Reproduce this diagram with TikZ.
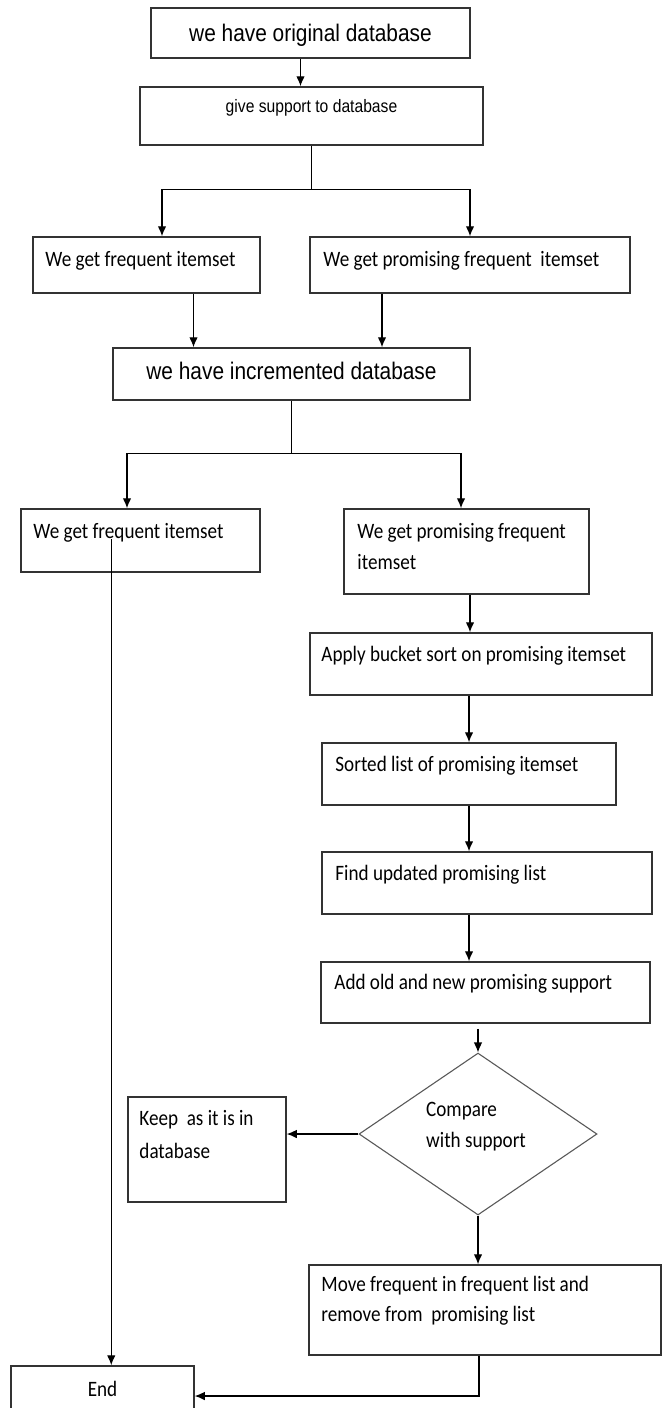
\documentclass[tikz,border=0pt]{standalone}
\usepackage{fontspec}
\newfontfamily\calfont[FakeStretch=0.87]{Carlito}
\newfontfamily\arfont[FakeStretch=0.87]{Liberation Sans}
\usetikzlibrary{arrows.meta,shapes.geometric,calc}

\begin{document}
\begin{tikzpicture}[x=1pt,y=-1pt,
  box/.style={draw=black!80, line width=1.5pt, inner sep=0pt},
  decision/.style={diamond, aspect=1.47, draw=black!65, line width=1.1pt, inner sep=0pt},
  txt/.style={font=\calfont\fontsize{22}{26}\selectfont, inner sep=0pt, anchor=base west},
  big/.style={font=\arfont\fontsize{24}{28}\selectfont, inner sep=0pt, anchor=base},
  arr/.style={-{Latex[length=10pt,width=8.5pt]}, line width=1.1pt}]
  \useasboundingbox (0,0) rectangle (663,1408);
  \clip (0,0) rectangle (663,1408);
  % boxes
  \node[box, minimum width=319pt, minimum height=50pt] (orig) at (310.5,33) {};
  \node[box, minimum width=343pt, minimum height=58pt] (supp) at (311.5,116) {};
  \node[box, minimum width=227pt, minimum height=56pt] (fr1) at (146.5,265) {};
  \node[box, minimum width=320pt, minimum height=56pt] (pr1) at (470,265) {};
  \node[box, minimum width=357pt, minimum height=52pt] (inc) at (291.5,374) {};
  \node[box, minimum width=239pt, minimum height=63pt] (fr2) at (140.5,540.5) {};
  \node[box, minimum width=245pt, minimum height=85pt] (pr2) at (466.5,551.5) {};
  \node[box, minimum width=342pt, minimum height=62pt] (bkt) at (481,664) {};
  \node[box, minimum width=294pt, minimum height=62pt] (srt) at (469,774) {};
  \node[box, minimum width=330pt, minimum height=62pt] (upd) at (487,883) {};
  \node[box, minimum width=329pt, minimum height=61pt] (add) at (485.5,992.5) {};
  \node[decision, minimum width=238pt, minimum height=162pt] (dia) at (478,1134) {};
  \node[box, minimum width=158pt, minimum height=105pt] (keep) at (207,1149.5) {};
  \node[box, minimum width=352pt, minimum height=90pt] (move) at (485,1310) {};
  \node[box, minimum width=183pt, minimum height=60pt] (endbox) at (102.5,1396) {};
  % texts
  \node[big] (origt) at ($(orig.south)+(0,-17)$) {we have original database};
  \node[big, font=\arfont\fontsize{18}{22}\selectfont] (suppt) at ($(supp.north)+(0,26)$) {give support to database};
  \node[txt] (fr1t) at ($(fr1.north west)+(13,30)$) {We get frequent itemset};
  \node[txt] (pr1t) at ($(pr1.north west)+(14,30)$) {We get promising frequent\ \ itemset};
  \node[big] (inct) at ($(inc.north)+(0,32)$) {we have incremented database};
  \node[txt] (fr2t) at ($(fr2.north west)+(13,30)$) {We get frequent itemset};
  \node[txt] (pr2t) at ($(pr2.north west)+(14,30)$) {We get promising frequent};
  \node[txt] (pr2u) at ($(pr2.north west)+(14,61)$) {itemset};
  \node[txt] (bktt) at ($(bkt.north west)+(12,29)$) {Apply bucket sort on promising itemset};
  \node[txt] (srtt) at ($(srt.north west)+(14,29)$) {Sorted list of promising itemset};
  \node[txt] (updt) at ($(upd.north west)+(14,29)$) {Find updated promising list};
  \node[txt] (addt) at ($(add.north west)+(14,28)$) {Add old and new promising support};
  \node[txt] (diat) at ($(dia.center)+(-52,-18)$) {Compare};
  \node[txt] (diau) at ($(dia.center)+(-52,13)$) {with support};
  \node[txt] (keept) at ($(keep.north west)+(12,29)$) {Keep\ \ as it is in};
  \node[txt] (keepu) at ($(keep.north west)+(12,62)$) {database};
  \node[txt] (movet) at ($(move.north west)+(13,27)$) {Move frequent in frequent list and};
  \node[txt] (moveu) at ($(move.north west)+(13,57)$) {remove from\ \ promising list};
  \node[txt, anchor=base] (endt) at ($(endbox.north)+(0,31)$) {End};
  % connectors
  \draw[arr] ([xshift=-10pt]orig.south) -- ([xshift=-11pt]supp.north);
  \draw (supp.south) -- ++(0,44) coordinate (s1);
  \draw[arr] (s1) -| ([xshift=15.5pt]fr1.north);
  \draw[arr] (s1) -| (pr1.north);
  \draw[arr] ([xshift=47pt]fr1.south) coordinate (a1) -- (a1 |- inc.north);
  \draw[arr] ([xshift=-88pt]pr1.south) coordinate (a2) -- (a2 |- inc.north);
  \draw (inc.south) -- ++(0,53) coordinate (s2);
  \draw[arr] (s2) -| ([xshift=-13.5pt]fr2.north);
  \draw[arr] (s2) -| ([xshift=-5.5pt]pr2.north);
  \draw[arr] ([xshift=3.5pt]pr2.south) coordinate (a3) -- (a3 |- bkt.north);
  \draw[arr] (srt.north |- bkt.south) -- (srt.north);
  \draw[arr] (srt.south) -- (srt.south |- upd.north);
  \draw[arr] (srt.south |- upd.south) -- (srt.south |- add.north);
  \path (dia.north |- add.south) ++(0,5) coordinate (a4);
  \draw[arr] (a4) -- (dia.north);
  \draw[arr] (dia.west) -- (keep.east |- dia.west);
  \draw[arr] (dia.south) -- (dia.south |- move.north);
  \draw[arr] ([xshift=-6pt]move.south) |- (endbox.east);
  \coordinate (f1) at ($(fr2.north west)+(91,31)$);
  \draw[arr] (f1) -- (f1 |- endbox.north);
\end{tikzpicture}
\end{document}
